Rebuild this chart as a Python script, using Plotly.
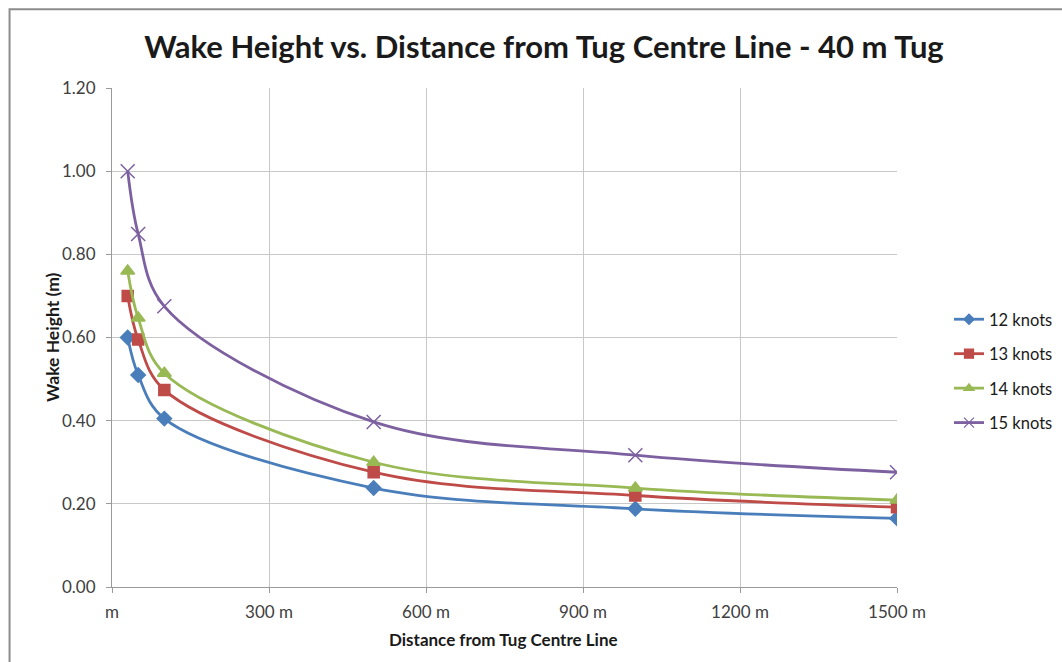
import plotly.graph_objects as go

distance_m = [30, 50, 100, 500, 1000, 1500]
knots_12 = [0.60, 0.51, 0.405, 0.238, 0.188, 0.165]
knots_13 = [0.70, 0.595, 0.474, 0.276, 0.220, 0.192]
knots_14 = [0.76, 0.647, 0.514, 0.300, 0.238, 0.209]
knots_15 = [1.00, 0.849, 0.675, 0.397, 0.317, 0.276]

series_names = ["12 knots", "13 knots", "14 knots", "15 knots"]
series_values = [knots_12, knots_13, knots_14, knots_15]
series_colors = ["#4A7EBB", "#BE4B48", "#98B954", "#7D60A0"]
series_symbols = ["diamond", "square", "triangle-up", "x-thin-open"]
series_sizes = [11, 11, 12, 14]
legend_sizes = [8, 9, 9, 10]

x_tick_vals = [0, 300, 600, 900, 1200, 1500]
x_tick_text = ["m", "300 m", "600 m", "900 m", "1200 m", "1500 m"]
y_tick_vals = [0, 0.2, 0.4, 0.6, 0.8, 1.0, 1.2]
y_tick_text = ["0.00", "0.20", "0.40", "0.60", "0.80", "1.00", "1.20"]

FONT = "Lato"

fig = go.Figure()
for name, vals, col, sym, sz in zip(series_names, series_values, series_colors, series_symbols, series_sizes):
    fig.add_trace(go.Scatter(
        x=distance_m, y=vals, name=name, mode="lines+markers",
        line=dict(color=col, width=2.8, shape="spline", smoothing=1),
        marker=dict(symbol=sym, size=sz, color=col, line=dict(color=col, width=1.5)),
        legendgroup=name, showlegend=False,
    ))
# legend entries (smaller markers, as in the reference legend)
for name, col, sym, lsz in zip(series_names, series_colors, series_symbols, legend_sizes):
    fig.add_trace(go.Scatter(
        x=[None], y=[None], name=name, mode="lines+markers",
        line=dict(color=col, width=2.8),
        marker=dict(symbol=sym, size=lsz, color=col, line=dict(color=col, width=1.2)),
        legendgroup=name, showlegend=True,
    ))

fig.update_layout(
    width=1062, height=662,
    margin=dict(l=111.5, r=165, t=88, b=75),
    paper_bgcolor="white", plot_bgcolor="white",
    font=dict(family=FONT, size=17, color="#404040"),
    title=dict(text="<b>Wake Height vs. Distance from Tug Centre Line - 40 m Tug</b>",
               x=0.5122, xanchor="center", y=0.929, yanchor="middle",
               font=dict(family=FONT, size=31, color="#1a1a1a")),
    xaxis=dict(range=[0, 1500], tickvals=x_tick_vals, ticktext=x_tick_text,
               showgrid=True, gridcolor="#c8c8c8", gridwidth=1.2,
               showline=True, linecolor="#9a9a9a", linewidth=1.2,
               ticks="outside", ticklen=5, tickcolor="#9a9a9a",
               ticklabelstandoff=4, zeroline=False, automargin=False),
    yaxis=dict(range=[0, 1.2], tickvals=y_tick_vals, ticktext=y_tick_text,
               showgrid=True, gridcolor="#c8c8c8", gridwidth=1.2,
               showline=True, linecolor="#9a9a9a", linewidth=1.2,
               ticks="outside", ticklen=5, tickcolor="#9a9a9a",
               ticklabelstandoff=7, zeroline=False, automargin=False),
    legend=dict(xref="container", yref="container", x=0.8936, xanchor="left",
                y=1 - 371 / 662, yanchor="middle",
                font=dict(family=FONT, size=16.5, color="#1a1a1a"),
                tracegroupgap=10, traceorder="grouped", bgcolor="rgba(0,0,0,0)"),
    annotations=[
        dict(text="<b>Distance from Tug Centre Line</b>", xref="paper", yref="paper",
             x=(503 - 111.5) / 785.5, y=(587 - 639) / 499, xanchor="center", yanchor="middle",
             showarrow=False, font=dict(family=FONT, size=17, color="#1a1a1a")),
        dict(text="<b>Wake Height (m)</b>", xref="paper", yref="paper", textangle=-90,
             x=(52 - 111.5) / 785.5, y=(587 - 337.5) / 499, xanchor="center", yanchor="middle",
             showarrow=False, font=dict(family=FONT, size=17.5, color="#1a1a1a")),
    ],
    shapes=[dict(type="rect", xref="paper", yref="paper",
                 x0=-0.1305, x1=1.25, y0=-0.2, y1=1.158,
                 line=dict(color="#8c8c8c", width=2), layer="below")],
)

fig.write_html("out.html")
